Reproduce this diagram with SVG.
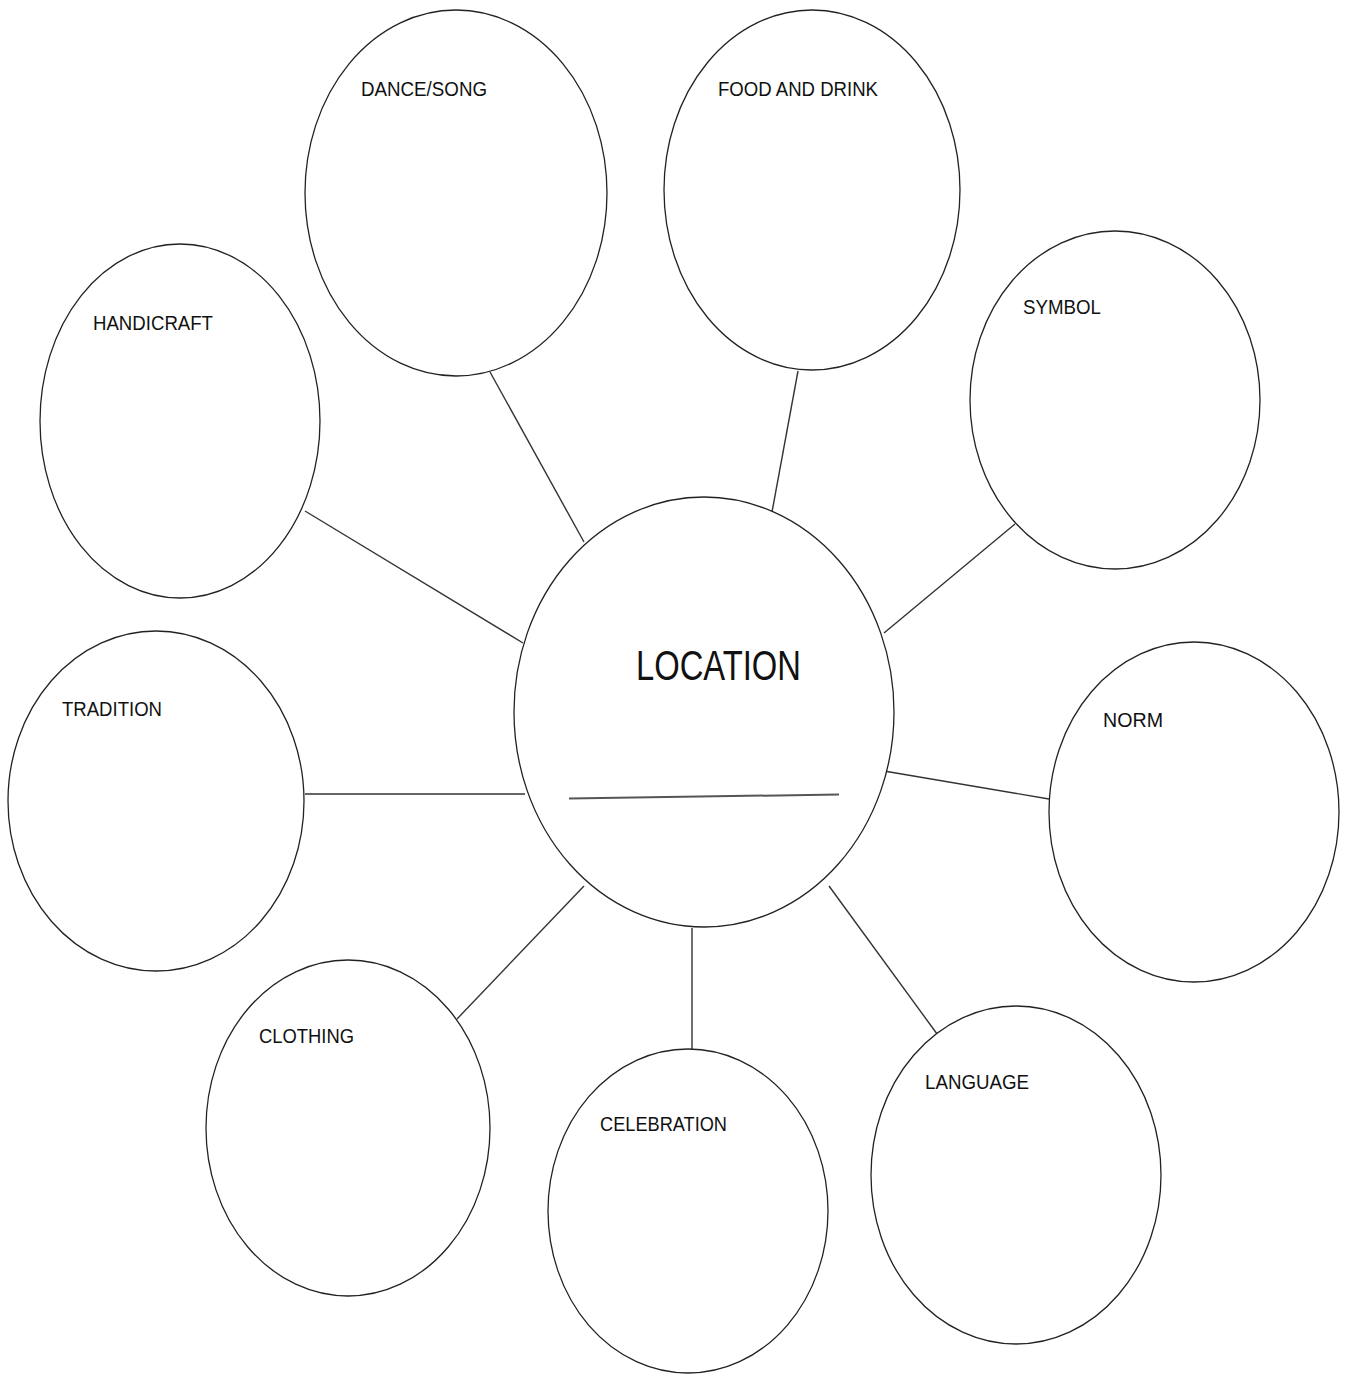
<svg xmlns="http://www.w3.org/2000/svg" width="1348" height="1376" viewBox="0 0 1348 1376">
<style>
.n{fill:#fff;stroke:#222;stroke-width:1.3}
.c line{stroke:#333;stroke-width:1.4}
.t{font-family:"Liberation Sans",Arial,sans-serif;font-size:21px;fill:#111}
.big{font-family:"Liberation Sans",Arial,sans-serif;font-size:43px;fill:#111}
</style>
<rect width="1348" height="1376" fill="#fff"/>
<g class="c" id="connectors">
<line x1="490" y1="372" x2="584" y2="542"/>
<line x1="798" y1="371" x2="772" y2="512"/>
<line x1="1015" y1="524" x2="884" y2="633"/>
<line x1="305" y1="511" x2="523" y2="643"/>
<line x1="305" y1="794" x2="525" y2="794"/>
<line x1="884" y1="771" x2="1049" y2="799"/>
<line x1="457" y1="1019" x2="584" y2="886"/>
<line x1="692" y1="928" x2="692" y2="1051"/>
<line x1="829" y1="886" x2="940" y2="1038"/>
</g>
<g id="location">
<ellipse class="n" cx="704" cy="712" rx="190" ry="215"/>
<text class="big" x="636" y="680" textLength="165" lengthAdjust="spacingAndGlyphs">LOCATION</text>
<line x1="569" y1="798.5" x2="839" y2="794.5" stroke="#555" stroke-width="2"/>
</g>
<g id="dance-song">
<ellipse class="n" cx="456" cy="193" rx="151" ry="183"/>
<text class="t" x="361" y="96" textLength="126" lengthAdjust="spacingAndGlyphs">DANCE/SONG</text>
</g>
<g id="food-and-drink">
<ellipse class="n" cx="812" cy="190" rx="148" ry="180"/>
<text class="t" x="718" y="96" textLength="160" lengthAdjust="spacingAndGlyphs">FOOD AND DRINK</text>
</g>
<g id="handicraft">
<ellipse class="n" cx="180" cy="421" rx="140" ry="177"/>
<text class="t" x="93" y="330" textLength="120" lengthAdjust="spacingAndGlyphs">HANDICRAFT</text>
</g>
<g id="symbol">
<ellipse class="n" cx="1115" cy="400" rx="145" ry="169"/>
<text class="t" x="1023" y="314" textLength="78" lengthAdjust="spacingAndGlyphs">SYMBOL</text>
</g>
<g id="tradition">
<ellipse class="n" cx="156" cy="801" rx="148" ry="170"/>
<text class="t" x="62" y="716" textLength="100" lengthAdjust="spacingAndGlyphs">TRADITION</text>
</g>
<g id="norm">
<ellipse class="n" cx="1194" cy="812" rx="145" ry="170"/>
<text class="t" x="1103" y="727" textLength="60" lengthAdjust="spacingAndGlyphs">NORM</text>
</g>
<g id="clothing">
<ellipse class="n" cx="348" cy="1128" rx="142" ry="168"/>
<text class="t" x="259" y="1043" textLength="95" lengthAdjust="spacingAndGlyphs">CLOTHING</text>
</g>
<g id="celebration">
<ellipse class="n" cx="688" cy="1211" rx="140" ry="162"/>
<text class="t" x="600" y="1131" textLength="127" lengthAdjust="spacingAndGlyphs">CELEBRATION</text>
</g>
<g id="language">
<ellipse class="n" cx="1016" cy="1175" rx="145" ry="169"/>
<text class="t" x="925" y="1089" textLength="104" lengthAdjust="spacingAndGlyphs">LANGUAGE</text>
</g>
</svg>
